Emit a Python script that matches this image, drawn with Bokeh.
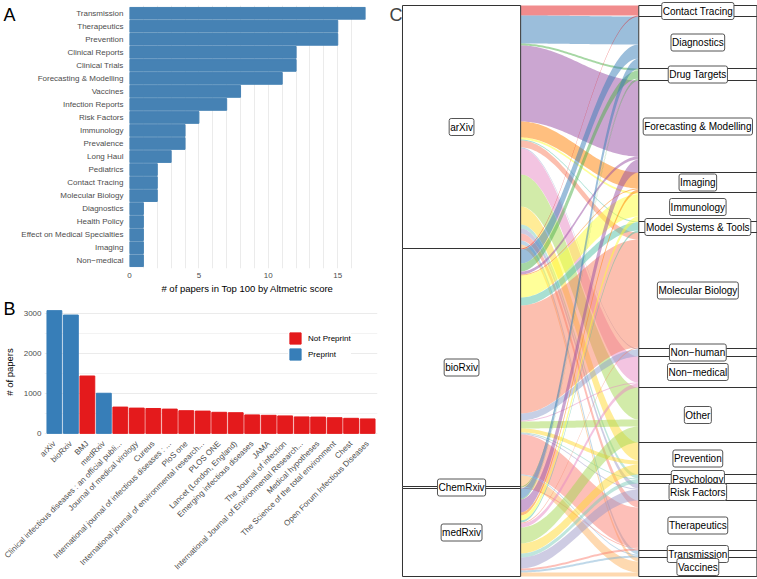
import math
import numpy as np
from bokeh.plotting import figure
from bokeh.layouts import row, column
from bokeh.models import (Range1d, FactorRange, Label, Legend, LegendItem, ColumnDataSource,
                          FixedTicker, SingleIntervalTicker)
from bokeh.core.properties import value
from bokeh.embed import file_html
from bokeh.resources import INLINE

FONT = "Liberation Sans"
TICK_COL = "#4D4D4D"
GRID_COL = "#EBEBEB"

# ---------------- Panel A data ----------------
topics_a = ["Transmission", "Therapeutics", "Prevention", "Clinical Reports", "Clinical Trials",
            "Forecasting & Modelling", "Vaccines", "Infection Reports", "Risk Factors", "Immunology",
            "Prevalence", "Long Haul", "Pediatrics", "Contact Tracing", "Molecular Biology",
            "Diagnostics", "Health Policy", "Effect on Medical Specialties", "Imaging", "Non\u2212medical"]
counts_a = [17, 15, 15, 12, 12, 11, 8, 7, 5, 4, 4, 3, 2, 2, 2, 1, 1, 1, 1, 1]
ticks_a = [0, 5, 10, 15]

# ---------------- Panel B data ----------------
journals = ["arXiv", "bioRxiv", "BMJ", "medRxiv",
            "Clinical infectious diseases : an official publi...",
            "Journal of medical virology", "Cureus",
            "International journal of infectious diseases : ...",
            "PloS one", "International journal of environmental research...",
            "PLOS ONE", "Lancet (London, England)", "Emerging infectious diseases",
            "JAMA", "The Journal of infection",
            "International Journal of Environmental Research...",
            "Medical hypotheses", "The Science of the total environment",
            "Chest", "Open Forum Infectious Diseases"]
papers_b = [3060, 2950, 1430, 1000, 655, 630, 620, 605, 565, 555,
            525, 515, 460, 450, 435, 410, 405, 390, 375, 360]
status_b = ["Preprint", "Preprint", "Not Preprint", "Preprint"] + ["Not Preprint"] * 16
ticks_b = [0, 1000, 2000, 3000]
minor_b = [500, 1500, 2500]

# ---------------- Panel C data ----------------
servers = ["arXiv", "bioRxiv", "ChemRxiv", "medRxiv"]
topics_c = ["Contact Tracing", "Diagnostics", "Drug Targets", "Forecasting & Modelling",
            "Imaging", "Immunology", "Model Systems & Tools", "Molecular Biology",
            "Non\u2212human", "Non\u2212medical", "Other", "Prevention", "Psychology",
            "Risk Factors", "Therapeutics", "Transmission", "Vaccines"]
flow_arxiv = [10, 28, 2, 76, 16, 2, 1, 7, 1, 26, 32, 18, 4, 5, 7, 4, 4]
flow_biorxiv = [1, 14, 8, 3, 1, 22, 8, 108, 7, 1, 7, 4, 1, 1, 40, 1, 11]
flow_chemrxiv = [0, 0, 1, 0, 0, 0, 0, 0, 0, 0, 0, 0, 0, 0, 1, 0, 0]
flow_medrxiv = [0, 10, 1, 13, 3, 5, 2, 1, 0, 4, 16, 10, 4, 11, 2, 2, 4]
topic_colors = ["#E41A1C", "#377EB8", "#4DAF4A", "#984EA3", "#FF7F00", "#FFFF33",
                "#52BFA5", "#FA8060", "#8DA0CB", "#E78AC3", "#A6D854", "#FFD92F",
                "#7FCDBB", "#9E9AC8", "#FB8072", "#80B1D3", "#FDB462"]

panel_letters = ["A", "B", "C"]


def style_axes(p):
    for ax in p.axis:
        ax.axis_line_color = None
        ax.major_tick_line_color = None
        ax.minor_tick_line_color = None
        ax.major_tick_out = 0
        ax.major_tick_in = 0
        ax.minor_tick_out = 0
        ax.minor_tick_in = 0
        ax.major_label_text_color = TICK_COL
        ax.major_label_text_font = FONT
        ax.major_label_text_font_size = "8px"
        ax.axis_label_text_font = FONT
        ax.axis_label_text_font_size = "9.5px"
        ax.axis_label_text_font_style = "normal"
        ax.axis_label_text_color = "black"
    p.outline_line_color = None
    p.border_fill_color = None


# ---------------- letter strip (panel letters A, B), overlapped by the left column ----------------
pS = figure(width=18, height=579, x_range=Range1d(0, 18), y_range=Range1d(0, 579),
            x_axis_type=None, y_axis_type=None, output_backend="svg", toolbar_location=None,
            min_border=0)
pS.outline_line_color = None
pS.xgrid.visible = False
pS.ygrid.visible = False
pS.text(x=[3, 3], y=[579 - 4, 579 - 298], text=panel_letters[:2], text_font=value(FONT),
        text_font_size="18px", text_baseline="top", text_align="left", text_color="black")

# ---------------- Figure A ----------------
pA = figure(width=388, height=296,
            y_range=FactorRange(*reversed(topics_a), range_padding=0.1, range_padding_units="absolute"),
            x_range=Range1d(0, 17), output_backend="svg", toolbar_location=None,
            min_border_left=129, min_border_right=23, min_border_top=5, min_border_bottom=27)
pA.hbar(y=topics_a, right=counts_a, left=0, height=0.9, color="#4682B4")
style_axes(pA)
pA.xaxis.ticker = FixedTicker(ticks=ticks_a)
pA.xaxis.axis_label = "# of papers in Top 100 by Altmetric score"
pA.xaxis.major_label_standoff = 4
pA.xaxis.axis_label_standoff = 2
pA.yaxis.major_label_standoff = 6
pA.xgrid.ticker = SingleIntervalTicker(interval=1)
pA.xgrid.grid_line_color = GRID_COL
pA.ygrid.grid_line_color = None

# ---------------- Figure B ----------------
pB = figure(width=388, height=283,
            x_range=FactorRange(*journals, range_padding=0.1, range_padding_units="absolute"),
            y_range=Range1d(-153, 3213), output_backend="svg", toolbar_location=None,
            min_border_left=41, min_border_right=11, min_border_top=8, min_border_bottom=140)
src_np = ColumnDataSource(dict(x=[j for j, s in zip(journals, status_b) if s == "Not Preprint"],
                               top=[v for v, s in zip(papers_b, status_b) if s == "Not Preprint"]))
src_p = ColumnDataSource(dict(x=[j for j, s in zip(journals, status_b) if s == "Preprint"],
                              top=[v for v, s in zip(papers_b, status_b) if s == "Preprint"]))
r_np = pB.vbar(x="x", top="top", bottom=0, width=0.9, color="#E41A1C", source=src_np)
r_p = pB.vbar(x="x", top="top", bottom=0, width=0.9, color="#377EB8", source=src_p)
style_axes(pB)
pB.yaxis.ticker = FixedTicker(ticks=ticks_b, minor_ticks=minor_b)
pB.yaxis.axis_label = "# of papers"
pB.yaxis.major_label_standoff = 3
pB.yaxis.axis_label_standoff = 6
pB.xaxis.major_label_orientation = math.pi / 4
pB.xaxis.major_label_standoff = 3
pB.ygrid.grid_line_color = GRID_COL
pB.ygrid.minor_grid_line_color = "#F3F3F3"
pB.xgrid.grid_line_color = None
legend = Legend(items=[LegendItem(label="Not Preprint", renderers=[r_np]),
                       LegendItem(label="Preprint", renderers=[r_p])],
                location=(244, 78), glyph_width=14, glyph_height=14, label_height=14,
                label_text_font_size="8px", label_text_font=FONT, label_text_color="black",
                label_standoff=6, spacing=2, padding=7, margin=0,
                title=" ", title_text_font_size="8px", title_standoff=4,
                background_fill_color="white", background_fill_alpha=1.0, border_line_color=None)
pB.add_layout(legend, "center")

# ---------------- Figure C (alluvial) ----------------
flows = np.array([flow_arxiv, flow_biorxiv, flow_chemrxiv, flow_medrxiv], dtype=float)
N = flows.sum()
src_tot = flows.sum(axis=1)
tgt_tot = flows.sum(axis=0)
src_top = N - np.concatenate([[0.0], np.cumsum(src_tot)[:-1]])
tgt_top = N - np.concatenate([[0.0], np.cumsum(tgt_tot)[:-1]])

pC = figure(width=369, height=579, x_range=Range1d(0.6908, 2.2525), y_range=Range1d(-3, N + 5),
            x_axis_type=None, y_axis_type=None, output_backend="svg", toolbar_location=None,
            min_border=0)
pC.outline_line_color = None
pC.xgrid.visible = False
pC.ygrid.visible = False

t = np.linspace(0.0, 1.0, 60)
s = (1.0 - np.cos(np.pi * t)) / 2.0
xl, xr = 1.25, 1.75
xs_curve = xl + (xr - xl) * t
xs_list, ys_list, cols = [], [], []
for i in range(len(servers)):
    for j in range(len(topics_c)):
        v = flows[i, j]
        if v <= 0:
            continue
        yl = src_top[i] - flows[i, :j].sum()
        yr = tgt_top[j] - flows[:i, j].sum()
        top_c = yl + (yr - yl) * s
        bot_c = (yl - v) + (yr - yl) * s
        xs_list.append(list(xs_curve) + list(xs_curve[::-1]))
        ys_list.append(list(top_c) + list(bot_c[::-1]))
        cols.append(topic_colors[j])
pC.patches(xs=xs_list, ys=ys_list, fill_color=cols, fill_alpha=0.5, line_color=None)

pC.quad(left=0.75, right=1.25, top=src_top, bottom=src_top - src_tot,
        fill_color="white", line_color="#333333", line_width=1)
pC.quad(left=1.75, right=2.25, top=tgt_top, bottom=tgt_top - tgt_tot,
        fill_color="white", line_color="#333333", line_width=1)

lab_src = ColumnDataSource(dict(
    x=[1.0] * len(servers) + [2.0] * len(topics_c),
    y=list(src_top - src_tot / 2.0) + list(tgt_top - tgt_tot / 2.0),
    text=servers + topics_c))
pC.text(x="x", y="y", text="text", source=lab_src, text_font=value(FONT), text_font_size="10px",
        text_align="center", text_baseline="middle", text_color="black",
        background_fill_color="white", border_line_color="#555555", border_line_width=1,
        padding=(1, 3), border_radius=2)

pC.add_layout(Label(x=1, y=575, x_units="screen", y_units="screen", text=panel_letters[2],
                    text_font=FONT, text_font_size="18px", text_baseline="top", text_align="left"))

left_col = column(row(pA), row(pB), margin=(0, 0, 0, -18))
layout = row(row(pS), left_col, row(pC))
open("out.html", "w").write(file_html(layout, INLINE))
